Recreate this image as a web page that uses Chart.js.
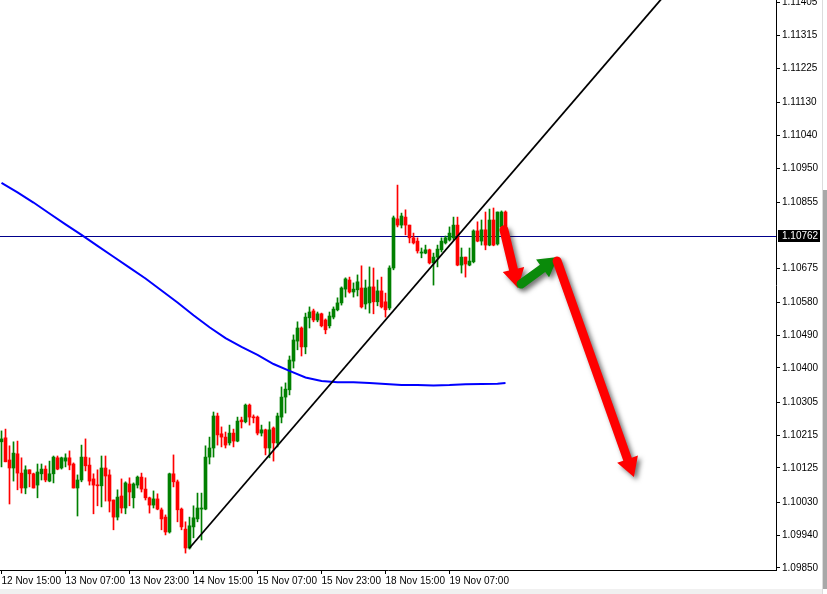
<!DOCTYPE html>
<html>
<head>
<meta charset="utf-8">
<script src="https://cdn.jsdelivr.net/npm/chart.js@4.4.0/dist/chart.umd.min.js"></script>
<style>
    html, body { margin: 0; padding: 0; background: #ffffff; }
    .chart-box { width: 827px; height: 594px; position: relative; }
</style>
</head>
<body>
<div class="chart-box"><canvas id="priceChart"></canvas></div>
<script>
// H1 candles, bar 0 = 12 Nov 15:00
const opens = [
    1.10197,1.10208,1.10147,1.10125,1.10164,1.10111,1.10070,1.10120,1.10109,1.10078,
    1.10109,1.10122,1.10089,1.10109,1.10153,1.10125,1.10144,1.10153,1.10136,1.10070,
    1.10092,1.10155,1.10133,1.10095,1.10078,1.10076,1.10125,1.10106,1.10037,1.09990,
    1.10048,1.10015,1.10081,1.10043,1.10078,1.10100,1.10067,1.10043,1.10023,1.10040,
    1.10010,1.09990,1.09949,1.10109,1.10087,1.10012,1.09957,1.09905,1.09963,1.09985,
    1.10012,1.10012,1.10155,1.10180,1.10268,1.10219,1.10210,1.10194,1.10221,1.10199,
    1.10257,1.10252,1.10298,1.10265,1.10265,1.10221,1.10230,1.10180,1.10235,1.10194,
    1.10265,1.10320,1.10340,1.10419,1.10474,1.10510,1.10458,1.10538,1.10557,1.10532,
    1.10549,1.10532,1.10516,1.10540,1.10560,1.10579,1.10617,1.10642,1.10609,1.10615,
    1.10620,1.10576,1.10579,1.10623,1.10582,1.10612,1.10582,1.10565,1.10675,1.10810,
    1.10793,1.10815,1.10793,1.10758,1.10749,1.10716,1.10716,1.10725,1.10689,1.10705,
    1.10725,1.10744,1.10752,1.10758,1.10793,1.10683,1.10705,1.10683,1.10692,1.10777,
    1.10749,1.10780,1.10738,1.10807,1.10741,1.10788,1.10829
];
const highs = [
    1.10227,1.10232,1.10186,1.10197,1.10199,1.10153,1.10131,1.10120,1.10111,1.10136,
    1.10136,1.10131,1.10144,1.10158,1.10158,1.10155,1.10164,1.10172,1.10139,1.10106,
    1.10188,1.10205,1.10153,1.10109,1.10120,1.10158,1.10158,1.10120,1.10037,1.10065,
    1.10095,1.10087,1.10098,1.10084,1.10103,1.10111,1.10098,1.10045,1.10062,1.10054,
    1.10015,1.09996,1.10111,1.10161,1.10092,1.10015,1.09977,1.09990,1.10021,1.10056,
    1.10056,1.10186,1.10210,1.10279,1.10276,1.10238,1.10224,1.10243,1.10232,1.10265,
    1.10265,1.10301,1.10301,1.10271,1.10268,1.10243,1.10232,1.10252,1.10238,1.10276,
    1.10348,1.10359,1.10433,1.10491,1.10527,1.10513,1.10551,1.10568,1.10562,1.10554,
    1.10551,1.10535,1.10554,1.10568,1.10593,1.10623,1.10648,1.10650,1.10634,1.10656,
    1.10681,1.10642,1.10678,1.10675,1.10642,1.10650,1.10606,1.10681,1.10818,1.10903,
    1.10826,1.10835,1.10793,1.10771,1.10758,1.10730,1.10738,1.10727,1.10716,1.10738,
    1.10758,1.10763,1.10788,1.10815,1.10815,1.10730,1.10705,1.10730,1.10780,1.10802,
    1.10807,1.10829,1.10837,1.10840,1.10829,1.10832,1.10832
];
const lows = [
    1.10128,1.10142,1.10026,1.10089,1.10065,1.10056,1.10054,1.10073,1.10070,1.10043,
    1.10092,1.10087,1.10087,1.10084,1.10120,1.10122,1.10128,1.10120,1.10070,1.09993,
    1.10087,1.10117,1.10078,1.09999,1.10021,1.10018,1.10034,1.10004,1.09955,1.09982,
    1.10001,1.09999,1.10021,1.10015,1.10070,1.10059,1.10037,1.10001,1.10015,1.10010,
    1.09955,1.09941,1.09946,1.10073,1.09977,1.09955,1.09891,1.09902,1.09933,1.09977,
    1.09927,1.10010,1.10136,1.10155,1.10188,1.10183,1.10180,1.10188,1.10183,1.10197,
    1.10235,1.10249,1.10243,1.10249,1.10216,1.10213,1.10161,1.10153,1.10144,1.10183,
    1.10249,1.10276,1.10326,1.10400,1.10450,1.10433,1.10439,1.10510,1.10527,1.10527,
    1.10513,1.10494,1.10510,1.10535,1.10557,1.10573,1.10595,1.10606,1.10595,1.10598,
    1.10565,1.10562,1.10551,1.10549,1.10571,1.10565,1.10540,1.10560,1.10670,1.10788,
    1.10785,1.10766,1.10744,1.10741,1.10716,1.10703,1.10714,1.10686,1.10628,1.10678,
    1.10719,1.10741,1.10749,1.10752,1.10681,1.10661,1.10650,1.10681,1.10689,1.10747,
    1.10738,1.10725,1.10736,1.10736,1.10738,1.10782,1.10760
];
const closes = [
    1.10205,1.10142,1.10125,1.10166,1.10111,1.10070,1.10120,1.10109,1.10070,1.10114,
    1.10122,1.10092,1.10109,1.10155,1.10122,1.10153,1.10153,1.10133,1.10070,1.10092,
    1.10155,1.10131,1.10089,1.10078,1.10076,1.10125,1.10103,1.10034,1.09990,1.10045,
    1.10015,1.10084,1.10059,1.10081,1.10100,1.10067,1.10043,1.10023,1.10040,1.10012,
    1.09985,1.09949,1.10109,1.10087,1.10010,1.09963,1.09905,1.09966,1.09988,1.10015,
    1.10015,1.10155,1.10180,1.10268,1.10216,1.10210,1.10188,1.10221,1.10199,1.10254,
    1.10252,1.10298,1.10265,1.10263,1.10221,1.10230,1.10180,1.10230,1.10194,1.10268,
    1.10320,1.10342,1.10422,1.10477,1.10510,1.10458,1.10540,1.10554,1.10532,1.10549,
    1.10516,1.10505,1.10543,1.10562,1.10579,1.10620,1.10645,1.10609,1.10617,1.10637,
    1.10568,1.10620,1.10623,1.10582,1.10612,1.10568,1.10560,1.10675,1.10813,1.10793,
    1.10818,1.10793,1.10758,1.10744,1.10722,1.10719,1.10725,1.10689,1.10705,1.10727,
    1.10749,1.10758,1.10771,1.10793,1.10683,1.10705,1.10686,1.10694,1.10777,1.10749,
    1.10780,1.10738,1.10807,1.10738,1.10829,1.10829,1.10762
];

// moving average, read every 4th bar
const maBars = [0,4,8,12,16,20,24,28,32,36,40,44,48,52,56,60,64,68,72,76,80,84,88,92,96,100,104,108,112,116,120,124,126];
const maValues = [1.10909,1.10883,1.10855,1.10825,1.10795,1.10766,1.10736,1.10706,1.10676,1.10646,1.10613,1.10580,1.10545,
    1.10512,1.10482,1.10458,1.10436,1.10411,1.10392,1.10374,1.10364,1.10361,1.10361,1.10359,1.10356,1.10353,1.10353,
    1.10352,1.10353,1.10355,1.10356,1.10357,1.10359];

// trend line from the 14 Nov low
const trendBars = [47, 166];
const trendPrices = [1.09905, 1.11428];

const bidPrice = 1.10762;

// drawn arrows (bar index, price)
const arrowFromBar = [125.6, 129.9, 138.9];
const arrowFromPrice = [1.10780, 1.10631, 1.10694];
const arrowToBar = [129.1, 139.1, 158.1];
const arrowToPrice = [1.10620, 1.10705, 1.10100];
const arrowColors = ['#ff0000', '#0a8a0a', '#ff0000'];

const xTickBars = [0, 16, 32, 48, 64, 80, 96, 112];
const xTickLabels = ['12 Nov 15:00', '13 Nov 07:00', '13 Nov 23:00', '14 Nov 15:00',
    '15 Nov 07:00', '15 Nov 23:00', '18 Nov 15:00', '19 Nov 07:00'];
const yTicks = [1.09850, 1.09940, 1.10030, 1.10125, 1.10215, 1.10305, 1.10400, 1.10490, 1.10580,
    1.10675, 1.10855, 1.10950, 1.11040, 1.11130, 1.11225, 1.11315, 1.11405];

const UP = '#008000';
const DOWN = '#ff0000';
const FONT = { family: 'Liberation Sans', size: 10 };

const candleColors = opens.map((o, i) => closes[i] >= o ? UP : DOWN);

function drawArrow(ctx, x0, y0, x1, y1, color) {
    const dx = x1 - x0, dy = y1 - y0;
    const len = Math.hypot(dx, dy);
    const ux = dx / len, uy = dy / len;
    const nx = -uy, ny = ux;
    const shaft = 4.5, head = 11, headLen = 19;
    const bx = x1 - ux * headLen, by = y1 - uy * headLen;
    const an = Math.atan2(ny, nx);

    ctx.beginPath();
    ctx.moveTo(x0 + nx * shaft, y0 + ny * shaft);
    ctx.lineTo(bx + nx * shaft, by + ny * shaft);
    ctx.lineTo(bx + nx * head, by + ny * head);
    ctx.lineTo(x1, y1);
    ctx.lineTo(bx - nx * head, by - ny * head);
    ctx.lineTo(bx - nx * shaft, by - ny * shaft);
    ctx.lineTo(x0 - nx * shaft, y0 - ny * shaft);
    ctx.arc(x0, y0, shaft, an + Math.PI, an, true);
    ctx.closePath();
    ctx.fillStyle = color;
    ctx.fill();
}

const overlayPlugin = {
    id: 'overlay',
    beforeDatasetsDraw(chart) {
        const { ctx, chartArea, scales } = chart;
        const y = Math.round(scales.y.getPixelForValue(bidPrice)) + 0.5;
        ctx.save();
        ctx.strokeStyle = '#00008b';
        ctx.lineWidth = 1;
        ctx.beginPath();
        ctx.moveTo(chartArea.left, y);
        ctx.lineTo(chartArea.right, y);
        ctx.stroke();
        ctx.restore();
    },
    afterDatasetsDraw(chart) {
        const { ctx, scales } = chart;
        ctx.save();
        ctx.shadowColor = 'rgba(0,0,0,0.55)';
        ctx.shadowBlur = 5;
        ctx.shadowOffsetX = 3;
        ctx.shadowOffsetY = 3;
        for (let i = 0; i < arrowFromBar.length; i++) {
            drawArrow(ctx,
                scales.x.getPixelForValue(arrowFromBar[i]), scales.y.getPixelForValue(arrowFromPrice[i]),
                scales.x.getPixelForValue(arrowToBar[i]), scales.y.getPixelForValue(arrowToPrice[i]),
                arrowColors[i]);
        }
        ctx.restore();
    },
    afterDraw(chart) {
        const { ctx, chartArea, scales, width, height } = chart;
        ctx.save();
        // price label
        const y = Math.round(scales.y.getPixelForValue(bidPrice));
        ctx.fillStyle = '#000000';
        ctx.fillRect(chartArea.right + 2, y - 6, 42, 12);
        ctx.fillStyle = '#ffffff';
        ctx.font = '10px "Liberation Sans"';
        ctx.textBaseline = 'middle';
        ctx.textAlign = 'left';
        ctx.fillText(bidPrice.toFixed(5), chartArea.right + 6, y + 0.5);
        // window edges
        ctx.fillStyle = '#f0f0f0';
        ctx.fillRect(0, height - 5, width - 5, 5);
        ctx.fillStyle = '#dcdcdc';
        ctx.fillRect(width - 5, 0, 1, height);
        ctx.fillStyle = '#a8a8a8';
        ctx.fillRect(width - 4, 190, 4, height - 195);
        ctx.restore();
    }
};

const idx = opens.map((o, i) => i);

new Chart(document.getElementById('priceChart'), {
    type: 'bar',
    data: {
        datasets: [
            {
                type: 'line',
                label: 'Trend',
                data: trendBars.map((b, k) => ({ x: b, y: trendPrices[k] })),
                borderColor: '#000000',
                borderWidth: 1.8,
                pointRadius: 0,
                order: 0
            },
            {
                type: 'line',
                label: 'MA',
                data: maBars.map((b, k) => ({ x: b, y: maValues[k] })),
                borderColor: '#0000ff',
                borderWidth: 2,
                pointRadius: 0,
                tension: 0,
                order: 1
            },
            {
                label: 'Body',
                data: idx.map(i => ({ x: i, y: [opens[i], closes[i]] })),
                backgroundColor: candleColors,
                barThickness: 3,
                minBarLength: 1,
                grouped: false,
                order: 2
            },
            {
                label: 'Wick',
                data: idx.map(i => ({ x: i, y: [lows[i], highs[i]] })),
                backgroundColor: candleColors,
                barThickness: 1,
                grouped: false,
                order: 3
            }
        ]
    },
    options: {
        responsive: true,
        maintainAspectRatio: false,
        animation: false,
        events: [],
        layout: { padding: { left: 0, right: 5, top: 0, bottom: 0 } },
        plugins: {
            legend: { display: false },
            tooltip: { enabled: false }
        },
        scales: {
            x: {
                type: 'linear',
                min: -0.375,
                max: 193.625,
                offset: false,
                grid: { drawOnChartArea: false, offset: false, color: '#000000', tickLength: 4 },
                border: { color: '#000000' },
                afterBuildTicks: scale => { scale.ticks = xTickBars.map(v => ({ value: v })); },
                afterFit: scale => { scale.height = 24; scale.paddingLeft = 0; scale.paddingRight = 0; },
                ticks: {
                    autoSkip: false,
                    maxRotation: 0,
                    minRotation: 0,
                    align: 'start',
                    padding: 1,
                    color: '#000000',
                    font: FONT,
                    callback: v => xTickLabels[xTickBars.indexOf(v)]
                }
            },
            y: {
                position: 'right',
                min: 1.098445,
                max: 1.11412,
                beginAtZero: false,
                grid: { drawOnChartArea: false, color: '#000000', tickLength: 4 },
                border: { color: '#000000' },
                afterBuildTicks: scale => { scale.ticks = yTicks.map(v => ({ value: v })); },
                afterFit: scale => { scale.width = 46; scale.paddingTop = 0; scale.paddingBottom = 0; },
                ticks: {
                    autoSkip: false,
                    padding: 2,
                    color: '#000000',
                    font: FONT,
                    callback: v => v.toFixed(5)
                }
            }
        }
    },
    plugins: [overlayPlugin]
});
</script>
</body>
</html>
